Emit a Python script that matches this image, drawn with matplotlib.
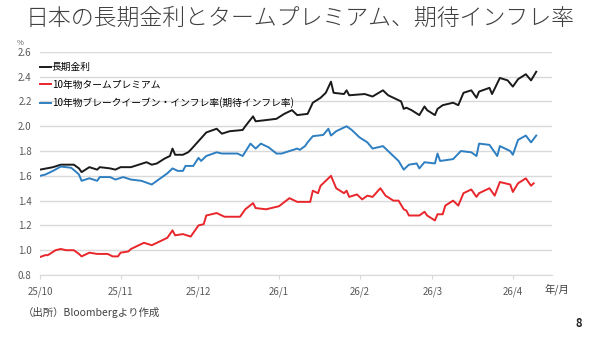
import matplotlib
matplotlib.use('Agg')
import matplotlib.pyplot as plt
import matplotlib.dates as mdates
from matplotlib.ticker import FuncFormatter, MultipleLocator
import pandas as pd

plt.rcParams['font.family'] = ['Noto Sans CJK JP', 'DejaVu Sans']

# 長期金利
jgb_dates = ['2025-10-01', '2025-10-06', '2025-10-09', '2025-10-14', '2025-10-16', '2025-10-17',
             '2025-10-20', '2025-10-23', '2025-10-24', '2025-10-28', '2025-10-30', '2025-11-01',
             '2025-11-05', '2025-11-08', '2025-11-11', '2025-11-13', '2025-11-15', '2025-11-18',
             '2025-11-20', '2025-11-21', '2025-11-22', '2025-11-25', '2025-11-27', '2025-11-28',
             '2025-12-01', '2025-12-04', '2025-12-08', '2025-12-10', '2025-12-13', '2025-12-18',
             '2025-12-19', '2025-12-22', '2025-12-23', '2025-12-27', '2025-12-31', '2026-01-03',
             '2026-01-06', '2026-01-08', '2026-01-12', '2026-01-14', '2026-01-17', '2026-01-19',
             '2026-01-21', '2026-01-22', '2026-01-26', '2026-01-27', '2026-01-28', '2026-02-03',
             '2026-02-06', '2026-02-10', '2026-02-12', '2026-02-15', '2026-02-17', '2026-02-18',
             '2026-02-19', '2026-02-21', '2026-02-24', '2026-02-26', '2026-02-27', '2026-03-02',
             '2026-03-03', '2026-03-05', '2026-03-09', '2026-03-11', '2026-03-13', '2026-03-16',
             '2026-03-18', '2026-03-19', '2026-03-23', '2026-03-24', '2026-03-27', '2026-03-30',
             '2026-04-01', '2026-04-03', '2026-04-06', '2026-04-08', '2026-04-10']
jgb = [1.65, 1.67, 1.69, 1.69, 1.66, 1.63,
       1.67, 1.65, 1.67, 1.66, 1.65, 1.67,
       1.67, 1.69, 1.71, 1.69, 1.70, 1.74,
       1.76, 1.82, 1.77, 1.77, 1.79, 1.81,
       1.88, 1.95, 1.98, 1.94, 1.96, 1.97,
       2.00, 2.08, 2.04, 2.05, 2.06, 2.10,
       2.13, 2.09, 2.10, 2.19, 2.23, 2.27,
       2.36, 2.27, 2.26, 2.29, 2.25, 2.26,
       2.24, 2.29, 2.25, 2.22, 2.20, 2.14,
       2.15, 2.13, 2.09, 2.16, 2.13, 2.09,
       2.14, 2.17, 2.19, 2.17, 2.27, 2.29,
       2.23, 2.28, 2.31, 2.26, 2.39, 2.37,
       2.32, 2.38, 2.42, 2.37, 2.44]

# 10年物タームプレミアム
tp_dates = ['2025-10-01', '2025-10-03', '2025-10-04', '2025-10-07', '2025-10-09', '2025-10-11',
            '2025-10-14', '2025-10-16', '2025-10-17', '2025-10-20', '2025-10-23', '2025-10-27',
            '2025-10-29', '2025-10-31', '2025-11-01', '2025-11-04', '2025-11-05', '2025-11-08',
            '2025-11-10', '2025-11-13', '2025-11-17', '2025-11-19', '2025-11-21', '2025-11-22',
            '2025-11-25', '2025-11-28', '2025-12-01', '2025-12-03', '2025-12-04', '2025-12-08',
            '2025-12-11', '2025-12-17', '2025-12-19', '2025-12-22', '2025-12-23', '2025-12-27',
            '2026-01-01', '2026-01-05', '2026-01-08', '2026-01-13', '2026-01-14', '2026-01-16',
            '2026-01-17', '2026-01-21', '2026-01-23', '2026-01-26', '2026-01-27', '2026-01-28',
            '2026-01-31', '2026-02-02', '2026-02-04', '2026-02-06', '2026-02-09', '2026-02-11',
            '2026-02-14', '2026-02-16', '2026-02-18', '2026-02-19', '2026-02-20', '2026-02-24',
            '2026-02-26', '2026-02-27', '2026-03-02', '2026-03-03', '2026-03-05', '2026-03-06',
            '2026-03-09', '2026-03-11', '2026-03-13', '2026-03-16', '2026-03-18', '2026-03-19',
            '2026-03-23', '2026-03-25', '2026-03-27', '2026-03-31', '2026-04-01', '2026-04-03',
            '2026-04-06', '2026-04-08', '2026-04-09']
tp = [0.945, 0.96, 0.96, 1.00, 1.01, 1.00,
      1.00, 0.97, 0.95, 0.98, 0.97, 0.97,
      0.95, 0.95, 0.98, 0.99, 1.01, 1.04,
      1.06, 1.04, 1.08, 1.10, 1.16, 1.12,
      1.13, 1.11, 1.20, 1.21, 1.28, 1.30,
      1.27, 1.27, 1.33, 1.38, 1.34, 1.33,
      1.355, 1.42, 1.39, 1.39, 1.48, 1.46,
      1.52, 1.60, 1.50, 1.46, 1.48, 1.43,
      1.45, 1.41, 1.44, 1.43, 1.50, 1.44,
      1.40, 1.40, 1.33, 1.32, 1.28, 1.28,
      1.31, 1.28, 1.24, 1.29, 1.29, 1.36,
      1.40, 1.36, 1.46, 1.49, 1.43, 1.46,
      1.50, 1.44, 1.55, 1.53, 1.47, 1.54,
      1.58, 1.52, 1.54]

# 10年物ブレークイーブン・インフレ率
bei_dates = ['2025-10-01', '2025-10-03', '2025-10-06', '2025-10-09', '2025-10-13', '2025-10-15',
             '2025-10-16', '2025-10-17', '2025-10-20', '2025-10-23', '2025-10-24', '2025-10-28',
             '2025-10-30', '2025-11-02', '2025-11-05', '2025-11-09', '2025-11-13', '2025-11-15',
             '2025-11-19', '2025-11-21', '2025-11-23', '2025-11-25', '2025-11-26', '2025-11-29',
             '2025-12-01', '2025-12-02', '2025-12-04', '2025-12-08', '2025-12-10', '2025-12-16',
             '2025-12-18', '2025-12-21', '2025-12-23', '2025-12-25', '2025-12-28', '2025-12-31',
             '2026-01-02', '2026-01-05', '2026-01-08', '2026-01-09', '2026-01-11', '2026-01-12',
             '2026-01-14', '2026-01-18', '2026-01-20', '2026-01-21', '2026-01-23', '2026-01-27',
             '2026-01-29', '2026-02-01', '2026-02-04', '2026-02-06', '2026-02-10', '2026-02-14',
             '2026-02-16', '2026-02-18', '2026-02-20', '2026-02-23', '2026-02-24', '2026-02-26',
             '2026-03-02', '2026-03-03', '2026-03-04', '2026-03-09', '2026-03-12', '2026-03-16',
             '2026-03-18', '2026-03-19', '2026-03-23', '2026-03-26', '2026-03-27', '2026-03-31',
             '2026-04-01', '2026-04-03', '2026-04-06', '2026-04-08', '2026-04-10']
bei = [1.60, 1.61, 1.64, 1.675, 1.665, 1.63,
       1.61, 1.56, 1.58, 1.56, 1.59, 1.59,
       1.57, 1.59, 1.57, 1.56, 1.53, 1.56,
       1.62, 1.66, 1.64, 1.64, 1.68, 1.68,
       1.745, 1.72, 1.76, 1.79, 1.78, 1.78,
       1.76, 1.86, 1.82, 1.86, 1.83, 1.78,
       1.78, 1.80, 1.82, 1.81, 1.84, 1.87,
       1.92, 1.93, 1.98, 1.925, 1.96, 2.00,
       1.97, 1.91, 1.87, 1.82, 1.84, 1.76,
       1.72, 1.65, 1.69, 1.70, 1.66, 1.71,
       1.70, 1.78, 1.72, 1.735, 1.80, 1.79,
       1.76, 1.86, 1.85, 1.76, 1.84, 1.80,
       1.77, 1.89, 1.925, 1.87, 1.925]

labels = ['長期金利', '10年物タームプレミアム', '10年物ブレークイーブン・インフレ率(期待インフレ率)']
colors = ['#1a1a1a', '#e8262b', '#2e7fc1']

fig = plt.figure(figsize=(6, 3.37), dpi=100)
ax = fig.add_axes([0.0667, 0.184, 0.853, 0.662])

ax.plot(pd.to_datetime(jgb_dates), jgb, color=colors[0], lw=1.4, label=labels[0])
ax.plot(pd.to_datetime(tp_dates), tp, color=colors[1], lw=1.4, label=labels[1])
ax.plot(pd.to_datetime(bei_dates), bei, color=colors[2], lw=1.4, label=labels[2])

ax.set_ylim(0.8, 2.6)
ax.yaxis.set_major_locator(MultipleLocator(0.2))
ax.yaxis.set_major_formatter(FuncFormatter(lambda v, p: f'{v:.1f}'))
ax.set_xlim(pd.Timestamp('2025-10-01'), pd.Timestamp('2026-04-16'))
ax.xaxis.set_major_locator(mdates.MonthLocator())
ax.xaxis.set_major_formatter(FuncFormatter(
    lambda v, p: f'{mdates.num2date(v).year % 100}/{mdates.num2date(v).month}'))

ax.grid(axis='y', color='#d9d9d9', lw=1)
ax.set_axisbelow(True)
for s in ['top', 'right', 'left']:
    ax.spines[s].set_visible(False)
ax.spines['bottom'].set_color('#d9d9d9')
ax.tick_params(axis='y', length=0, labelsize=7, labelcolor='#595959', pad=6)
ax.tick_params(axis='x', length=3, color='#d9d9d9', labelsize=7, labelcolor='#595959', pad=5)

ax.legend(loc='upper left', bbox_to_anchor=(0.0, 0.955), frameon=False, fontsize=7,
          handlelength=1.1, handletextpad=0.1, labelspacing=0.8, borderpad=0, borderaxespad=0)

fig.text(0.5, 0.945, '日本の長期金利とタームプレミアム、期待インフレ率', ha='center', va='center',
         fontsize=16.5, fontweight='light', color='#404040')
fig.text(0.028, 0.872, '%', ha='left', va='center', fontsize=5.5, color='#595959')
fig.text(0.908, 0.142, '年/月', ha='left', va='center', fontsize=7.5, color='#404040')
fig.text(0.038, 0.074, '（出所）Bloombergより作成', ha='left', va='center', fontsize=7.5, color='#404040')
fig.text(0.965, 0.04, '8', ha='center', va='center', fontsize=8, fontweight='bold', color='#222222')

fig.savefig('out.png', dpi=100)
